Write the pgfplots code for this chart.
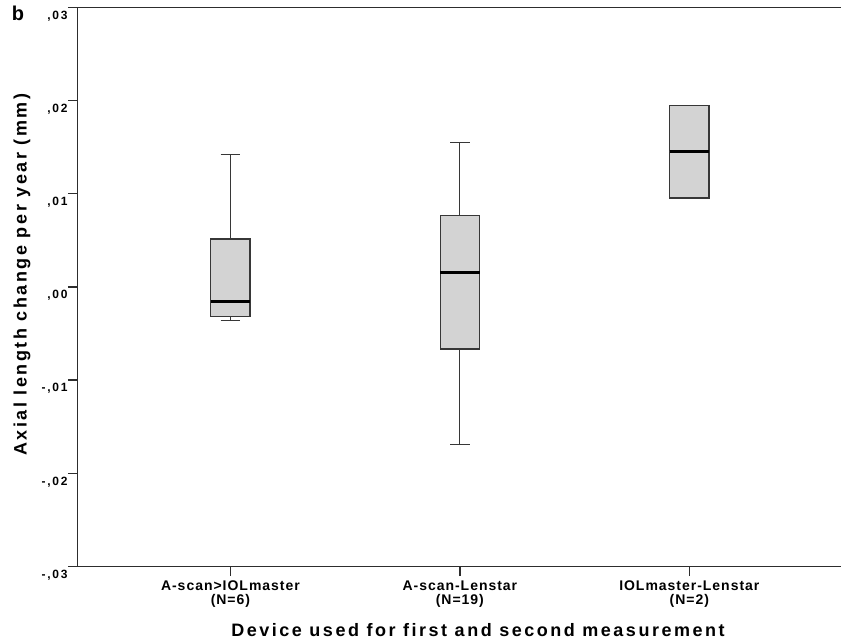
\documentclass[border=0pt]{standalone}
\usepackage{fontspec}
\setmainfont{Liberation Sans}
\newfontfamily\tickyfont[LetterSpace=15]{Liberation Sans}
\newfontfamily\tickxfont[LetterSpace=7]{Liberation Sans}
\newfontfamily\labelfont[LetterSpace=14]{Liberation Sans}
\usepackage{pgfplots}
\pgfplotsset{compat=1.18}
\usepgfplotslibrary{statistics}
\definecolor{axisgray}{RGB}{45,45,45}
\definecolor{boxfill}{RGB}{211,211,211}
\definecolor{boxline}{RGB}{55,55,55}

\begin{document}
\begin{tikzpicture}
\useasboundingbox (-77.3bp,-75.3bp) rectangle (763.7bp,566.5bp);
\begin{axis}[
  at={(0,0)}, anchor=south west,
  scale only axis, width=763.7bp, height=559.2bp,
  xmin=0.3326, xmax=3.661, ymin=-0.03, ymax=0.03,
  scaled y ticks=false,
  separate axis lines,
  axis x line*=box, axis y line*=left,
  axis line style={line width=1.4bp, axisgray},
  xtick={1,2,3}, xtick pos=bottom,
  xticklabels={{A-scan>IOLmaster\\(N=6)},{A-scan-Lenstar\\(N=19)},{IOLmaster-Lenstar\\(N=2)}},
  xticklabel style={align=center, inner sep=0pt, yshift=-5bp,
    font=\tickxfont\bfseries\fontsize{14bp}{14bp}\selectfont},
  ytick={-0.03,-0.02,-0.01,0,0.01,0.02,0.03},
  yticklabels={{-,03},{-,02},{-,01},{,00},{,01},{,02},{,03}},
  yticklabel style={anchor=east, inner sep=0pt, yshift=-8.5bp,
    font=\tickyfont\bfseries\fontsize{12bp}{13bp}\selectfont},
  ytick pos=left,
  tick align=outside, major tick length=9.5bp,
  tick style={line width=1.3bp, axisgray},
  boxplot/draw direction=y,
  boxplot/every median/.style={draw=black, line width=3bp},
  boxplot/every whisker/.style={line width=1.1bp},
  xlabel={Device used for first and second measurement},
  ylabel={Axial length change per year (mm)},
  xlabel style={at={(axis description cs:0.5247,-0.1132)}, anchor=center, inner sep=0pt,
    font=\labelfont\bfseries\fontsize{18bp}{20bp}\selectfont},
  ylabel style={at={(axis description cs:-0.0724,0.5216)}, anchor=center, inner sep=0pt,
    font=\labelfont\bfseries\fontsize{18bp}{20bp}\selectfont},
  clip=false,
]
% A-scan > IOLmaster (N=6)
\addplot[draw=boxline, fill=boxfill, line width=1.3bp,
  boxplot prepared={draw position=1, median=-0.00154,
    upper quartile=0.00515, lower quartile=-0.00315,
    upper whisker=0.01420, lower whisker=-0.00358,
    box extend=0.171, whisker extend=0.085}] coordinates {};
% A-scan - Lenstar (N=19)
\addplot[draw=boxline, fill=boxfill, line width=1.3bp,
  boxplot prepared={draw position=2, median=0.00150,
    upper quartile=0.00765, lower quartile=-0.00665,
    upper whisker=0.01545, lower whisker=-0.01695,
    box extend=0.171, whisker extend=0.085}] coordinates {};
% IOLmaster - Lenstar (N=2)
\addplot[draw=boxline, fill=boxfill, line width=1.3bp,
  boxplot prepared={draw position=3, median=0.01455,
    upper quartile=0.01948, lower quartile=0.00955,
    upper whisker=0.01948, lower whisker=0.00955,
    box extend=0.171, whisker extend=0.085}] coordinates {};
\node[font=\bfseries\fontsize{20bp}{20bp}\selectfont, anchor=center]
  at (axis description cs:-0.0776,0.9893) {b};
\end{axis}
\end{tikzpicture}
\end{document}
